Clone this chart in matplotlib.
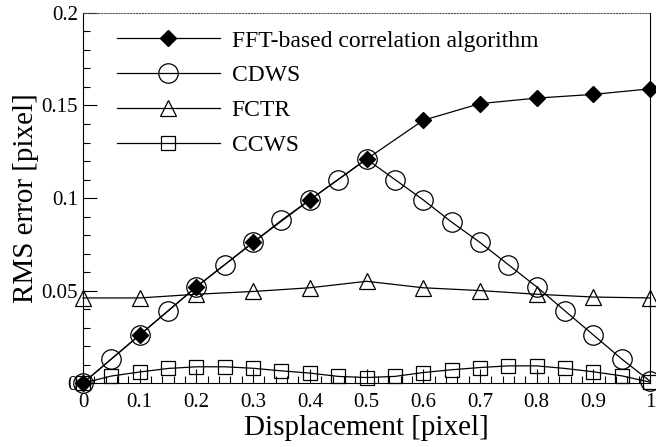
import matplotlib
matplotlib.use("Agg")
import matplotlib.pyplot as plt
from matplotlib.ticker import MultipleLocator, FuncFormatter

plt.rcParams['font.family'] = ['Liberation Serif', 'DejaVu Serif']

# Dane
x_fft = [0, 0.1, 0.2, 0.3, 0.4, 0.5, 0.6, 0.7, 0.8, 0.9, 1.0]
y_fft = [0.0, 0.026, 0.052, 0.076, 0.099, 0.121, 0.142, 0.151, 0.154, 0.156, 0.159]

x_cdws = [0, 0.05, 0.1, 0.15, 0.2, 0.25, 0.3, 0.35, 0.4, 0.45, 0.5,
          0.55, 0.6, 0.65, 0.7, 0.75, 0.8, 0.85, 0.9, 0.95, 1.0]
y_cdws = [0.0, 0.013, 0.026, 0.039, 0.052, 0.064, 0.076, 0.088, 0.099, 0.110, 0.121,
          0.110, 0.099, 0.087, 0.076, 0.064, 0.052, 0.039, 0.026, 0.013, 0.001]

x_fctr = [0, 0.1, 0.2, 0.3, 0.4, 0.5, 0.6, 0.7, 0.8, 0.9, 1.0]
y_fctr = [0.046, 0.046, 0.048, 0.0495, 0.0515, 0.055, 0.0515, 0.050, 0.048, 0.0465, 0.046]

x_ccws = x_cdws
y_ccws = [0.0, 0.0038, 0.006, 0.0079, 0.0088, 0.0088, 0.008, 0.0066, 0.0054, 0.0036, 0.003,
          0.0036, 0.0057, 0.0072, 0.0084, 0.0093, 0.0093, 0.0079, 0.0061, 0.0039, 0.0005]

fig = plt.figure(figsize=(6.56, 4.47), dpi=100)
ax = fig.add_axes([0.1265, 0.143, 0.8645, 0.828])

lw = 0.9
ax.plot(x_ccws, y_ccws, '-s', color='black', lw=lw, markersize=10,
        markerfacecolor='none', markeredgewidth=0.9, label='CCWS', clip_on=False, zorder=3)
ax.plot(x_fctr, y_fctr, '-^', color='black', lw=lw, markersize=11,
        markerfacecolor='none', markeredgewidth=0.9, label='FCTR', clip_on=False, zorder=3)
ax.plot(x_cdws, y_cdws, '-o', color='black', lw=lw, markersize=14,
        markerfacecolor='none', markeredgewidth=0.9, label='CDWS', clip_on=False, zorder=4)
ax.plot(x_fft, y_fft, '-D', color='black', lw=lw, markersize=8,
        markerfacecolor='black', label='FFT-based correlation algorithm', clip_on=False, zorder=5)

ax.set_xlim(0, 1)
ax.set_ylim(0, 0.2)
ax.xaxis.set_major_locator(MultipleLocator(0.1))
ax.xaxis.set_minor_locator(MultipleLocator(0.02))
ax.yaxis.set_major_locator(MultipleLocator(0.05))
ax.yaxis.set_minor_locator(MultipleLocator(0.01))
ax.xaxis.set_major_formatter(FuncFormatter(lambda v, p: '%g' % round(v, 2)))
ax.yaxis.set_major_formatter(FuncFormatter(lambda v, p: '%g' % round(v, 2)))
ax.tick_params(which='both', direction='in', top=False, right=False, labelsize=15)
ax.tick_params(axis='x', which='major', pad=7)
ax.tick_params(which='major', length=10, width=0.8)
ax.tick_params(which='minor', length=5, width=0.8)
ax.spines['top'].set_linestyle(':')
ax.spines['top'].set_linewidth(0.8)
ax.spines['top'].set_color('#555555')

ax.set_xlabel('Displacement [pixel]', fontsize=21, labelpad=2)
ax.set_ylabel('RMS error [pixel]', fontsize=21, labelpad=2)

handles, labels = ax.get_legend_handles_labels()
ax.legend(handles[::-1], labels[::-1], loc='upper left', frameon=False, fontsize=17,
          handlelength=4.35, handletextpad=0.5, labelspacing=0.56, borderpad=0,
          borderaxespad=0, bbox_to_anchor=(0.06, 0.954))

fig.savefig('out.png', dpi=100)
